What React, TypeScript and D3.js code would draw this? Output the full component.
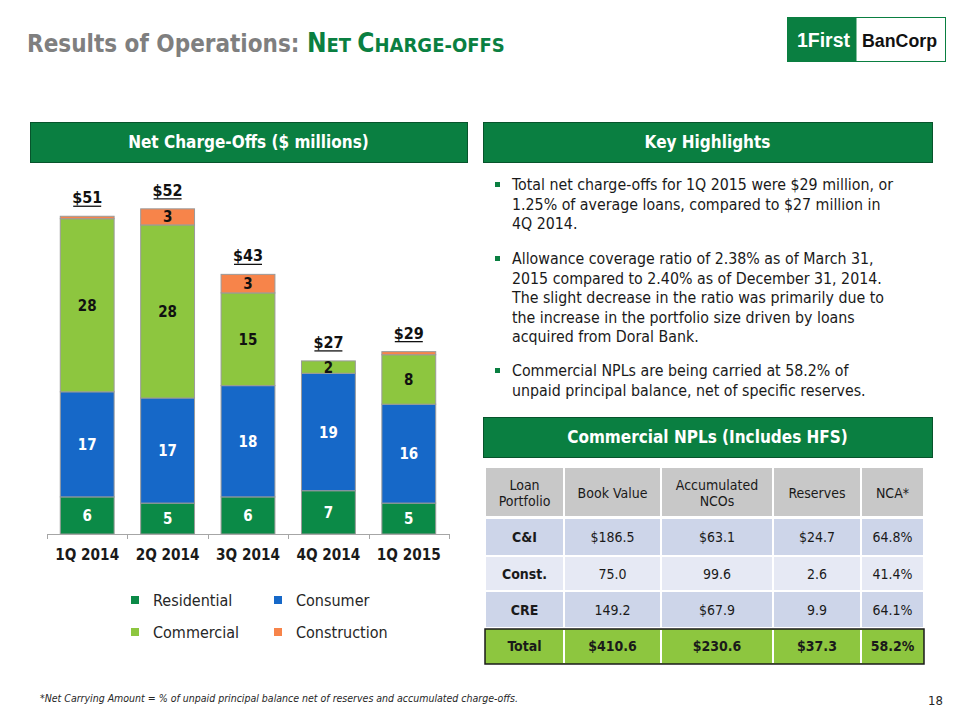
import React from "react";
import * as d3 from "d3";

const quarters = ["1Q 2014", "2Q 2014", "3Q 2014", "4Q 2014", "1Q 2015"];
const residential = [6, 5, 6, 7, 5];
const consumer = [17, 17, 18, 19, 16];
const commercial = [28, 28, 15, 2, 8];
const construction = [0.4, 2.6, 3, 0, 0.5];
const totalLabels = ["$51", "$52", "$43", "$27", "$29"];

const seriesKeys = ["Residential", "Consumer", "Commercial", "Construction"];
const seriesColors = ["#0b8a47", "#1668c8", "#8dc63f", "#f7844a"];
const labelColors = ["#ffffff", "#ffffff", "#111111", "#111111"];

const bullets = [
  ["Total net charge-offs for 1Q 2015 were $29 million, or", "1.25% of average loans, compared to $27 million in", "4Q 2014."],
  [
    "Allowance coverage ratio of 2.38% as of March 31,",
    "2015 compared to 2.40% as of December 31, 2014.",
    "The slight decrease in the ratio was primarily due to",
    "the increase in the portfolio size driven by loans",
    "acquired from Doral Bank.",
  ],
  ["Commercial NPLs are being carried at 58.2% of", "unpaid principal balance, net of specific reserves."],
];

const tableHeader = [["Loan", "Portfolio"], ["Book Value"], ["Accumulated", "NCOs"], ["Reserves"], ["NCA*"]];
const tableRows = [
  ["C&I", "$186.5", "$63.1", "$24.7", "64.8%"],
  ["Const.", "75.0", "99.6", "2.6", "41.4%"],
  ["CRE", "149.2", "$67.9", "9.9", "64.1%"],
];
const tableTotal = ["Total", "$410.6", "$230.6", "$37.3", "58.2%"];

const FONT = "'DejaVu Sans Condensed', 'DejaVu Sans', sans-serif";
const GREEN = "#0a7f41";

export default function App() {
  const data = quarters.map((q, i) => ({
    q,
    Residential: residential[i],
    Consumer: consumer[i],
    Commercial: commercial[i],
    Construction: construction[i],
  }));
  const stack = d3.stack<any>().keys(seriesKeys)(data);
  const x = d3.scaleBand().domain(quarters).range([47, 449]).paddingInner(0.33).paddingOuter(0.165);
  const y = d3.scaleLinear().domain([0, 55]).range([534, 194]);
  const totals = data.map((d) => seriesKeys.reduce((s, k) => s + (d as any)[k], 0));

  const colX = [485, 564, 661, 773, 861, 924];
  const rowY = [468, 518, 556, 591, 628, 664];
  const rowFills = ["#cdd5e9", "#e6e9f4", "#cdd5e9"];

  return (
    <svg width={960} height={720} style={{ position: "absolute", left: 0, top: 0, fontFamily: FONT, fontStretch: "condensed" }}>
      <rect width={960} height={720} fill="#ffffff" />
      {/* Title */}
      <text x={27} y={52} fontWeight="bold" fill="#7f7f7f" fontSize={24}>
        <tspan>Results of Operations: </tspan>
        <tspan fill={GREEN} fontSize={26}>N</tspan>
        <tspan fill={GREEN} fontSize={20}>ET </tspan>
        <tspan fill={GREEN} fontSize={26}>C</tspan>
        <tspan fill={GREEN} fontSize={20}>HARGE-OFFS</tspan>
      </text>
      {/* Logo */}
      <rect x={787.5} y={17.5} width={158} height={44} fill="#ffffff" stroke={GREEN} strokeWidth={1} />
      <rect x={787.5} y={17.5} width={69} height={44} fill={GREEN} />
      <text x={797} y={47} fill="#ffffff" fontWeight="bold" fontSize={20} fontFamily="'Liberation Sans', Arial, sans-serif" textLength={53} lengthAdjust="spacingAndGlyphs">1First</text>
      <text x={862} y={47} fill="#111111" fontWeight="bold" fontSize={19} fontFamily="'Liberation Sans', Arial, sans-serif" textLength={75} lengthAdjust="spacingAndGlyphs">BanCorp</text>

      {/* Section headers */}
      {[
        { x: 30, y: 122, w: 437, t: "Net Charge-Offs ($ millions)" },
        { x: 483, y: 122, w: 449, t: "Key Highlights" },
        { x: 483, y: 417, w: 449, t: "Commercial NPLs (Includes HFS)" },
      ].map((h) => (
        <g key={h.t}>
          <rect x={h.x + 0.5} y={h.y + 0.5} width={h.w} height={40} fill={GREEN} stroke="#07542c" strokeWidth={1} />
          <text x={h.x + h.w / 2} y={h.y + 26} textAnchor="middle" fill="#ffffff" fontWeight="bold" fontSize={17}>{h.t}</text>
        </g>
      ))}

      {/* Bars */}
      {stack.map((s, si) => (
        <g key={s.key}>
          {s.map((d, i) => {
            const v = d[1] - d[0];
            if (v <= 0) return null;
            const x0 = x(quarters[i])!;
            const yTop = y(d[1]);
            const yBot = y(d[0]);
            return (
              <g key={i}>
                <rect x={x0} y={yTop} width={x.bandwidth()} height={yBot - yTop} fill={seriesColors[si]} stroke="#9a9a9a" strokeWidth={1} />
                {v >= 1 && (
                  <text x={x0 + x.bandwidth() / 2} y={(yTop + yBot) / 2 + 5.5} textAnchor="middle" fill={labelColors[si]} fontWeight="bold" fontSize={15}>
                    {Math.round(v)}
                  </text>
                )}
              </g>
            );
          })}
        </g>
      ))}
      {/* Totals */}
      {quarters.map((q, i) => {
        const cx = x(q)! + x.bandwidth() / 2;
        const ty = y(totals[i]) - 13;
        return (
          <g key={q}>
            <text x={cx} y={ty} textAnchor="middle" fontWeight="bold" fontSize={16} fill="#111111">{totalLabels[i]}</text>
            <line x1={cx - 14} x2={cx + 14} y1={ty + 3} y2={ty + 3} stroke="#111111" strokeWidth={1.3} />
          </g>
        );
      })}
      {/* Axis */}
      <line x1={47} x2={449} y1={534.5} y2={534.5} stroke="#a6a6a6" />
      {[0, 1, 2, 3, 4, 5].map((k) => {
        const tx = Math.round(47 + k * x.step()) + 0.5;
        return <line key={k} x1={tx} x2={tx} y1={534} y2={539} stroke="#a6a6a6" />;
      })}
      {quarters.map((q) => (
        <text key={q} x={x(q)! + x.bandwidth() / 2} y={560} textAnchor="middle" fontWeight="bold" fontSize={15.2} fill="#1a1a1a">{q}</text>
      ))}
      {/* Legend */}
      {seriesKeys.map((k, i) => {
        const lx = i % 2 === 0 ? 131 : 274;
        const ly = i < 2 ? 600 : 632;
        return (
          <g key={k}>
            <rect x={lx} y={ly - 4} width={8} height={8} fill={seriesColors[i]} />
            <text x={lx + 22} y={ly + 6} fontSize={16} fill="#262626">{k}</text>
          </g>
        );
      })}

      {/* Bullets */}
      {(() => {
        const starts = [190, 264, 376];
        return bullets.map((lines, bi) => (
          <g key={bi}>
            <rect x={495} y={starts[bi] - 8} width={5} height={5} fill={GREEN} />
            {lines.map((l, li) => (
              <text key={li} x={512} y={starts[bi] + li * 19.6} fontSize={15.8} fill="#1a1a1a">{l}</text>
            ))}
          </g>
        ));
      })()}

      {/* Table */}
      {tableHeader.map((h, ci) => (
        <g key={ci}>
          <rect x={colX[ci] + 1} y={rowY[0]} width={colX[ci + 1] - colX[ci] - 2} height={rowY[1] - rowY[0] - 2} fill="#c8c8c8" />
          {h.map((t, ti) => (
            <text key={ti} x={(colX[ci] + colX[ci + 1]) / 2} y={(rowY[0] + rowY[1]) / 2 + 5 + (ti - (h.length - 1) / 2) * 16} textAnchor="middle" fontSize={14} fill="#1a1a1a">{t}</text>
          ))}
        </g>
      ))}
      {tableRows.map((r, ri) => (
        <g key={ri}>
          {r.map((c, ci) => (
            <g key={ci}>
              <rect x={colX[ci] + 1} y={rowY[ri + 1] + 1} width={colX[ci + 1] - colX[ci] - 2} height={rowY[ri + 2] - rowY[ri + 1] - 2} fill={rowFills[ri]} />
              <text x={(colX[ci] + colX[ci + 1]) / 2} y={(rowY[ri + 1] + rowY[ri + 2]) / 2 + 5} textAnchor="middle" fontSize={14} fontWeight={ci === 0 ? "bold" : "normal"} fill="#1a1a1a">{c}</text>
            </g>
          ))}
        </g>
      ))}
      <rect x={485} y={629} width={439} height={35} fill="#8dc63f" stroke="#1a1a1a" strokeWidth={1.5} />
      {tableTotal.map((c, ci) => (
        <g key={ci}>
          {ci > 0 && <line x1={colX[ci]} x2={colX[ci]} y1={630} y2={663} stroke="#ffffff" strokeWidth={2} />}
          <text x={(colX[ci] + colX[ci + 1]) / 2} y={651} textAnchor="middle" fontSize={14} fontWeight="bold" fill="#1a1a1a">{c}</text>
        </g>
      ))}

      {/* Footnote */}
      <text x={40} y={702} fontSize={10.5} fontStyle="italic" fill="#262626">*Net Carrying Amount = % of unpaid principal balance net of reserves and accumulated charge-offs.</text>
      <text x={943} y={705} textAnchor="end" fontSize={13} fill="#262626">18</text>
    </svg>
  );
}
